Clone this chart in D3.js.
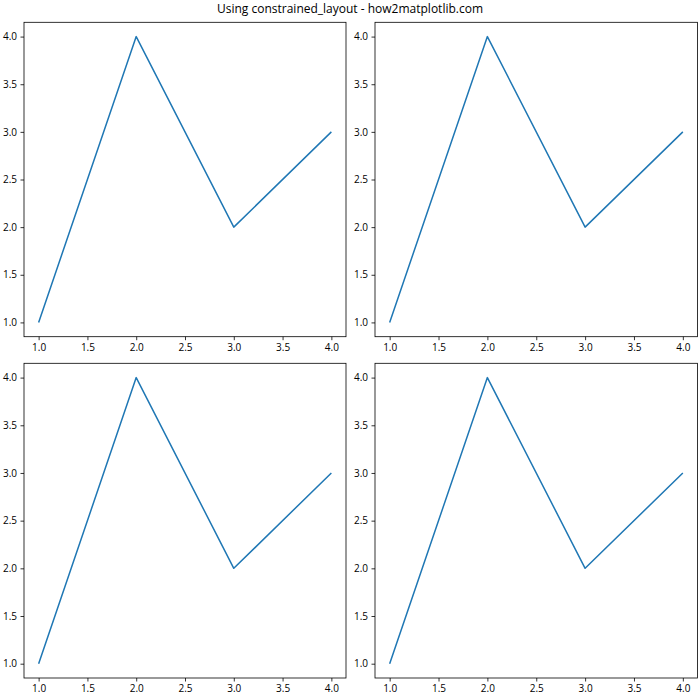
<!DOCTYPE html>
<html><head><meta charset="utf-8">
<script src="https://cdn.jsdelivr.net/npm/d3@7"></script>
<style>body{margin:0;background:#fff;} svg{display:block;}</style>
</head><body>
<svg id="c" width="700" height="700"></svg>
<script>
const xValues = [1, 2, 3, 4];
const yValues = [1, 4, 2, 3];
const xTicks = [1.0, 1.5, 2.0, 2.5, 3.0, 3.5, 4.0];
const yTicks = [1.0, 1.5, 2.0, 2.5, 3.0, 3.5, 4.0];
const titleText = "Using constrained_layout - how2matplotlib.com";

const svg = d3.select("#c");
const font = "'Segoe UI', 'Open Sans', 'Noto Sans', sans-serif";
svg.append("rect").attr("width",700).attr("height",700).attr("fill","#fff");
svg.append("text").attr("x",350).attr("y",13).attr("text-anchor","middle")
  .attr("font-family",font).attr("font-size",12).attr("fill","#000").text(titleText);

const panels = [
  {l:24, r:346, t:22.3, b:336.7},
  {l:375, r:697.5, t:22.3, b:336.7},
  {l:24, r:346, t:363.3, b:678},
  {l:375, r:697.5, t:363.3, b:678}
];
const pad = 0.05 * (d3.max(xValues)-d3.min(xValues));
const pady = 0.05 * (d3.max(yValues)-d3.min(yValues));
panels.forEach(p => {
  const x = d3.scaleLinear().domain([d3.min(xValues)-pad, d3.max(xValues)+pad]).range([p.l, p.r]);
  const y = d3.scaleLinear().domain([d3.min(yValues)-pady, d3.max(yValues)+pady]).range([p.b, p.t]);
  const g = svg.append("g");
  const xa = g.append("g").attr("transform",`translate(0,${p.b})`)
    .call(d3.axisBottom(x).tickValues(xTicks).tickFormat(d3.format(".1f")).tickSize(3.5).tickPadding(3.5));
  const ya = g.append("g").attr("transform",`translate(${p.l},0)`)
    .call(d3.axisLeft(y).tickValues(yTicks).tickFormat(d3.format(".1f")).tickSize(3.5).tickPadding(3.5));
  [xa, ya].forEach(a => {
    a.select(".domain").remove();
    a.selectAll("line").attr("stroke","#000").attr("stroke-width",0.8);
    a.selectAll("text").attr("font-family",font).attr("font-size",10).attr("fill","#000");
  });
  g.append("path").datum(xValues.map((v,i)=>[v, yValues[i]]))
    .attr("d", d3.line().x(d=>x(d[0])).y(d=>y(d[1])))
    .attr("fill","none").attr("stroke","#1f77b4").attr("stroke-width",1.5).attr("stroke-linejoin","round");
  g.append("rect").attr("x",p.l).attr("y",p.t).attr("width",p.r-p.l).attr("height",p.b-p.t)
    .attr("fill","none").attr("stroke","#000").attr("stroke-width",0.8);
});
</script>
</body></html>
